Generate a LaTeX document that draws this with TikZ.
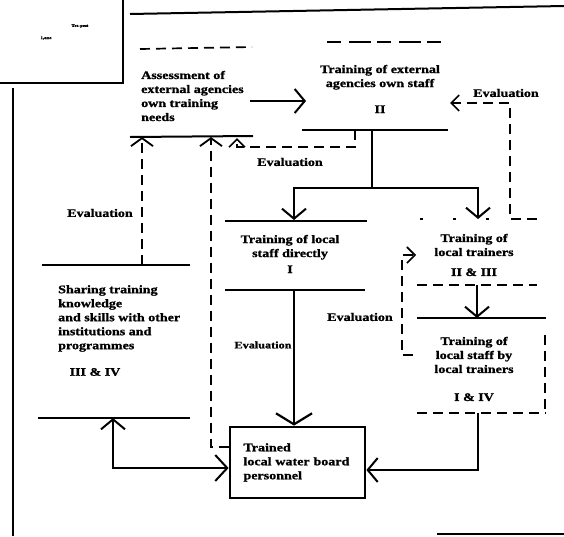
\documentclass[tikz,border=0pt]{standalone}
\usepackage{fontspec}
\setmainfont{Liberation Serif}[FakeStretch=1.22, BoldFeatures={FakeBold=1.2}]
\usetikzlibrary{arrows.meta}
\begin{document}
\begin{tikzpicture}[x=1pt,y=-1pt,
  lab/.style={font=\bfseries\fontsize{11.5}{14}\selectfont, inner sep=0pt},
  smalllab/.style={font=\bfseries\fontsize{10}{12}\selectfont, inner sep=0pt},
  sline/.style={line width=2pt},
  thinline/.style={line width=1.5pt},
  dline/.style={line width=1.7pt, dash pattern=on 10pt off 6pt},
  bigarr/.style={-{Straight Barb[length=10pt,width=24pt,line width=2pt]}},
  evarr/.style={-{Straight Barb[length=8pt,width=16pt,line width=1.6pt]}},
  uparr/.style={-{Straight Barb[length=8pt,width=22pt,line width=1.8pt]}}
]
\useasboundingbox (0,0) rectangle (564,536);

% ---------- frame fragments ----------
\draw[sline] (0,83) -- (123,83) -- (123,0);
\node[font=\fontsize{4}{4}\selectfont\bfseries, inner sep=0pt] (scrap1) at (80,26) {Trs-pest};
\node[font=\fontsize{4}{4}\selectfont\bfseries, inner sep=0pt] (scrap2) at (46,38) {1,ane};
\draw[sline] (13,88) -- (13,536);
\draw[sline] (130,14) -- (564,6);
\draw[dline] (140,49) -- (252,47);
\draw[thinline, dash pattern=on 14pt off 8pt on 22pt off 6pt] (327,42) -- (444,42);
\draw[sline] (437,534) -- (564,534);

% ---------- texts ----------
\node[lab, anchor=west, align=left] (assess) at (141,96)
  {Assessment of\\external agencies\\own training\\needs};
\node[lab, align=center] (ext) at (380,89)
  {Training of external\\agencies own staff\\[12pt]II};
\node[lab, align=center] (loc) at (290,254)
  {Training of local\\staff directly\\[2pt]I};
\node[lab, align=center] (trn) at (474,255)
  {Training of\\local trainers\\[6pt]II \& III};
\node[lab, align=center] (lst) at (474,369)
  {Training of\\local staff by\\local trainers\\[14pt]I \& IV};
\node[lab, anchor=north west, align=left] (share) at (58,285)
  {Sharing training\\knowledge\\and skills with other\\institutions and\\programmes};
\node[lab] (sharenum) at (95,372) {III \& IV};
\node[lab, draw, line width=2.8pt, minimum width=135pt, minimum height=71pt,
      text width=108pt, align=left, inner xsep=13.5pt] (trained) at (297.5,462.5)
  {Trained\\local water board\\personnel};

\node[lab] (ev1) at (506,93) {Evaluation};
\node[lab] (ev2) at (290,162) {Evaluation};
\node[lab] (ev3) at (100,213) {Evaluation};
\node[smalllab] (ev4) at (263,345) {Evaluation};
\node[lab] (ev5) at (360,317) {Evaluation};

% ---------- box edges ----------
\draw[sline] (130,137) -- (253,136);                 % assess bottom
\draw[sline] (302,130) -- (448,130);                 % ext bottom
\draw[sline] (225,221) -- (367,221);                 % loc top
\draw[sline] (225,290) -- (365,290);                 % loc bottom
\draw[thinline, dash pattern=on 3pt off 30pt] (420,219) -- (510,219);  % trn top
\draw[dline] (417,285) -- (537,285);                 % trn bottom
\draw[sline] (417,318) -- (546,318);                 % lst top
\draw[dline] (545,335) -- (545,410);                 % lst right
\draw[dline] (417,413) -- (546,413);                 % lst bottom
\draw[sline] (42,265) -- (190,265);                  % share top
\draw[sline] (38,418) -- (190,418);                  % share bottom

% ---------- named junctions ----------
\coordinate (assessR) at (250,101);
\coordinate (extL) at (306,101);
\coordinate (extB) at (372,130);
\coordinate (fork) at (372,188);
\coordinate (locT) at (294,220);
\coordinate (trnT) at (478,219);
\coordinate (assessB1) at (142,137);
\coordinate (assessB3) at (237,138);
\coordinate (extR) at (450,103);
\coordinate (shareT) at (142,265);
\coordinate (shareB) at (113,418);
\coordinate (trnL) at (416,255);
\coordinate (trnB) at (477,285);
\coordinate (lstT) at (477,318);
\coordinate (lstB) at (478,413);

% ---------- solid connectors ----------
\draw[sline, bigarr] (assessR) -- (extL);
\draw[sline] (extB) -- (fork);
\draw[sline, bigarr] (fork) -| (locT);
\draw[sline, bigarr] (fork) -| (trnT);
\draw[sline, -{Straight Barb[length=11pt,width=36pt,line width=2.2pt]}] (294,290) -- (trained.north -| 294,0);
\draw[sline, bigarr] (trnB) -- (lstT);
\draw[sline, bigarr] (lstB) |- (trained.east |- 0,470);
\draw[sline, {Straight Barb[length=10pt,width=24pt,line width=2pt]}-{Straight Barb[length=12pt,width=26pt,line width=2pt]}]
  (shareB) |- (trained.west |- 0,468);

% ---------- evaluation (dashed) connectors ----------
\draw[dline, evarr] (537,219) -- (510,219) -- (510,103) -- (extR);
\draw[dline, evarr] (355,130) -- (355,147) -- (237,147) -- (assessB3);
\draw[dline, uparr] (shareT) -- (assessB1);
\draw[dline, uparr] (trained.west |- 0,447) -- (211,447) -- (211,137);
\draw[dline, evarr] (413,355) -- (402,355) -- (402,255) -- (trnL);
\end{tikzpicture}
\end{document}
